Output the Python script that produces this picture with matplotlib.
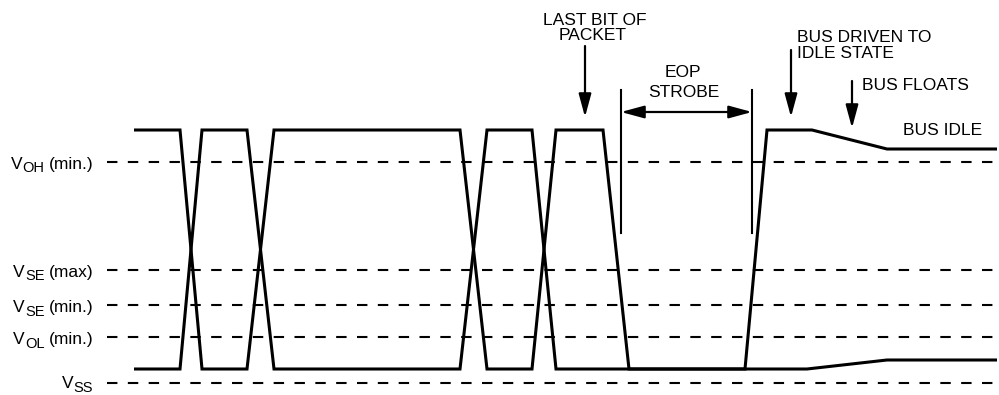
"""
USB end-of-packet (EOP) timing: differential lines D+ / D- with the
receiver thresholds, the EOP strobe window and the bus returning to idle.
"""

import matplotlib.pyplot as plt

plt.rcParams["font.family"] = ["Liberation Sans", "DejaVu Sans"]

# threshold levels (drawn as dashed lines) and their labels
ref_level = [162, 270, 305, 337, 383]
ref_main = ["V", "V", "V", "V", "V"]
ref_sub = ["OH", "SE", "SE", "OL", "SS"]
ref_rest = ["(min.)", "(max)", "(min.)", "(min.)", ""]

# signal levels
v_high = 130
v_low = 369
v_idle_high = 149
v_idle_low = 360

# line starting high: breakpoints in time and level
dp_time = [134, 180, 202, 247, 274, 460, 487, 532, 556, 603, 629, 745, 767, 812, 887, 997]
dp_level = [v_high, v_high, v_low, v_low, v_high, v_high, v_low, v_low,
            v_high, v_high, v_low, v_low, v_high, v_high, v_idle_high, v_idle_high]

# line starting low
dm_time = [134, 180, 202, 247, 274, 460, 487, 532, 556, 807, 887, 997]
dm_level = [v_low, v_low, v_high, v_high, v_low, v_low, v_high, v_high,
            v_low, v_low, v_idle_low, v_idle_low]

# EOP strobe window
eop_start = 621
eop_end = 752


def arrow(ax, tail, tip, style="-|>"):
    ax.annotate(
        "", xy=tip, xytext=tail,
        arrowprops=dict(arrowstyle=f"{style},head_length=14,head_width=3.8",
                        mutation_scale=1, lw=1.6, color="black",
                        shrinkA=0, shrinkB=0),
    )


def main():
    fig = plt.figure(figsize=(9.99, 3.95), dpi=100)
    ax = fig.add_axes([0, 0, 1, 1])
    ax.set_xlim(0, 999)
    ax.set_ylim(395, 0)
    ax.axis("off")

    for y in ref_level:
        ax.plot([107, 997], [y, y], color="black", lw=1.5, dashes=(5, 5))

    for t, v in [(dp_time, dp_level), (dm_time, dm_level)]:
        ax.plot(t, v, color="black", lw=2.2,
                solid_joinstyle="miter", solid_capstyle="butt")

    # threshold labels, built right to left so the subscripts fit
    renderer = fig.canvas.get_renderer()
    inv = ax.transData.inverted()
    for main_txt, sub, rest, y in zip(ref_main, ref_sub, ref_rest, ref_level):
        base = min(y + 7, 388)
        x = 93
        if rest:
            t = ax.text(x, base, rest, ha="right", va="baseline", fontsize=12.5)
            x = inv.transform(t.get_window_extent(renderer).p0)[0] - 4
        t = ax.text(x, base + 3.5, sub, ha="right", va="baseline", fontsize=10.5)
        x = inv.transform(t.get_window_extent(renderer).p0)[0]
        ax.text(x, base, main_txt, ha="right", va="baseline", fontsize=12.5)

    # EOP strobe markers
    for x in [eop_start, eop_end]:
        ax.plot([x, x], [90, 233], color="black", lw=1.5)
    arrow(ax, (eop_end, 112), (eop_start, 112), style="<|-|>")

    # annotations
    fs = 12.5
    ax.text(595, 25, "LAST BIT OF", ha="center", va="baseline", fontsize=fs)
    ax.text(593, 40, "PACKET", ha="center", va="baseline", fontsize=fs)
    arrow(ax, (585, 46), (585, 117))

    ax.text(683, 77, "EOP", ha="center", va="baseline", fontsize=fs)
    ax.text(684, 97, "STROBE", ha="center", va="baseline", fontsize=fs)

    ax.text(797, 42, "BUS DRIVEN TO", ha="left", va="baseline", fontsize=fs)
    ax.text(797, 58, "IDLE STATE", ha="left", va="baseline", fontsize=fs)
    arrow(ax, (791, 50), (791, 117))

    ax.text(862, 90, "BUS FLOATS", ha="left", va="baseline", fontsize=fs)
    arrow(ax, (852, 81), (852, 128))

    ax.text(903, 135, "BUS IDLE", ha="left", va="baseline", fontsize=fs)

    fig.savefig("out.png", dpi=100, facecolor="white")
    plt.close(fig)


if __name__ == "__main__":
    main()
